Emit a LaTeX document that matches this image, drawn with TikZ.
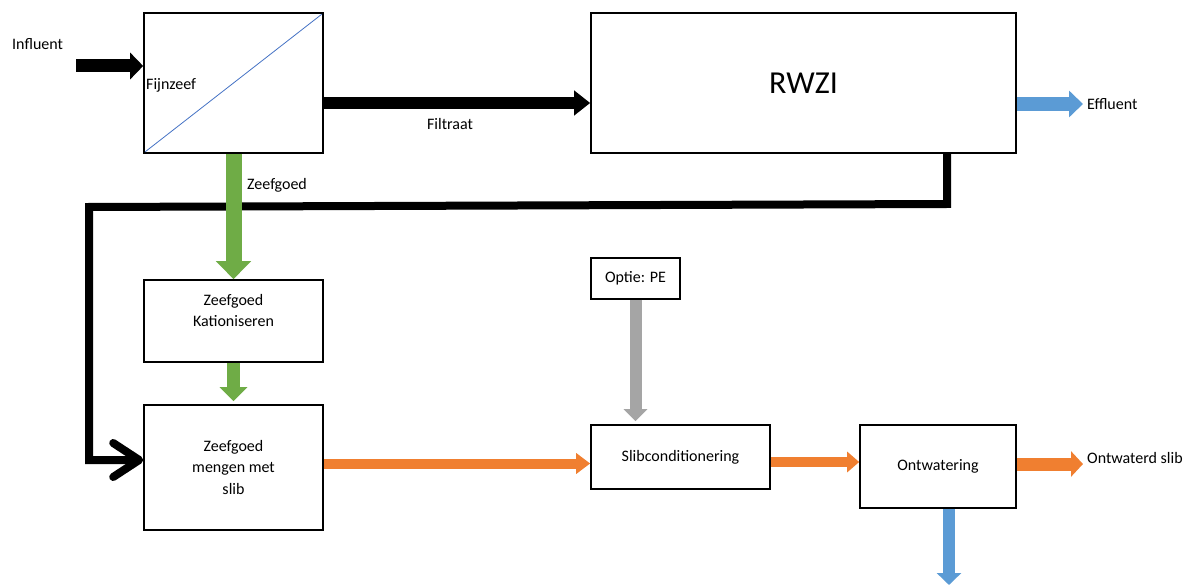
\documentclass[tikz,border=0pt]{standalone}
\usepackage{fontspec}
\setmainfont{Carlito}
\usetikzlibrary{arrows.meta, positioning}
\definecolor{zeefgreen}{HTML}{6FAC46}
\definecolor{sliborange}{HTML}{F07F30}
\definecolor{waterblue}{HTML}{5B9BD5}
\definecolor{pegray}{HTML}{A5A5A5}
\definecolor{sieveblue}{HTML}{4472C4}

\begin{document}
\begin{tikzpicture}[x=1pt, y=-1pt,
    procbox/.style={draw, line width=1.6pt, align=center, inner sep=0pt, font=\fontsize{16}{21.5}\selectfont},
    flowtext/.style={inner sep=0pt, font=\fontsize{16}{19}\selectfont},
    fatarrow/.style n args={3}{line width=#1, -{Triangle[length=#2, width=#3]}},
    returnline/.style={line width=8pt, line join=miter, -{Straight Barb[length=26pt, width=34pt, line cap=round, line join=round]}},
]
  \useasboundingbox (0,0) rectangle (1189,585);

  % process boxes
  \node[procbox, minimum width=179pt, minimum height=140pt] (fijnzeef) at (233.5,83) {};
  \node[procbox, minimum width=425pt, minimum height=140pt, font=\fontsize{32}{38}\selectfont] (rwzi) at (803.5,83) {RWZI};
  \node[procbox, minimum width=179pt, minimum height=82pt] (kation) at (233.5,321) {Zeefgoed\\Kationiseren\\\mbox{}};
  \node[procbox, minimum width=179pt, minimum height=125pt] (mengen) at (233.5,467.5) {Zeefgoed\\mengen met\\slib};
  \node[procbox, minimum width=89pt, minimum height=41pt] (optie) at (635.5,278.5) {Optie: PE};
  \node[procbox, minimum width=179pt, minimum height=64pt] (slibcond) at (680.5,457) {Slibconditionering};
  \node[procbox, minimum width=156pt, minimum height=83pt] (ontw) at (938,466.5) {Ontwatering};

  \draw[sieveblue, line width=0.8pt] ([shift={(2pt,2pt)}]fijnzeef.south west) -- ([shift={(-2pt,-2pt)}]fijnzeef.north east);
  \node[flowtext, anchor=west] (fijnlabel) at (146,85) {Fijnzeef};

  % free ends
  \coordinate (infl) at (76,66);
  \coordinate (eff) at (1083,104);
  \coordinate (slibout) at (1083,464);
  \coordinate (water) at (949,585);
  \coordinate (ret1) at (947,204);
  \coordinate (ret2) at (89,207);
  \coordinate (ret3) at (89,460);

  % return line from RWZI
  \draw[returnline] (ret1 |- rwzi.south) -- (ret1) -- (ret2) -- (ret3) -- (ret3 -| mengen.west);

  % flows
  \draw[fatarrow={13pt}{13pt}{26pt}] (infl) -- (infl -| fijnzeef.west);
  \draw[fatarrow={12pt}{16pt}{24pt}] ([yshift=-20pt]fijnzeef.east) -- ([yshift=-20pt]fijnzeef.east -| rwzi.west);
  \draw[fatarrow={14pt}{14pt}{26pt}, waterblue] (eff -| rwzi.east) -- (eff);
  \draw[fatarrow={16pt}{18pt}{34pt}, zeefgreen] (fijnzeef.south) -- (kation.north);
  \draw[fatarrow={13pt}{14pt}{27pt}, zeefgreen] (kation.south) -- ([yshift=3pt]mengen.north);
  \draw[fatarrow={12pt}{12pt}{23pt}, pegray] (optie.south) -- ([yshift=3pt]optie.south |- slibcond.north);
  \draw[fatarrow={10pt}{14pt}{20pt}, sliborange] ([yshift=4pt]mengen.east) -- ([yshift=4pt]mengen.east -| slibcond.west);
  \draw[fatarrow={10pt}{12pt}{20pt}, sliborange] ([yshift=-5pt]slibcond.east) -- ([yshift=-5pt]slibcond.east -| ontw.west);
  \draw[fatarrow={13pt}{12pt}{25pt}, sliborange] (slibout -| ontw.east) -- (slibout);
  \draw[fatarrow={12pt}{12pt}{24pt}, waterblue] (water |- ontw.south) -- (water);

  % flow labels
  \node[flowtext, anchor=west] (inlabel) at (12,44) {Influent};
  \node[flowtext] (filtlabel) at (450,124) {Filtraat};
  \node[flowtext, anchor=west] (efflabel) at (1087,104) {Effluent};
  \node[flowtext, anchor=west] (zeeflabel) at (247,185) {Zeefgoed};
  \node[flowtext, anchor=west] (sliblabel) at (1087,458) {Ontwaterd slib};
\end{tikzpicture}
\end{document}
